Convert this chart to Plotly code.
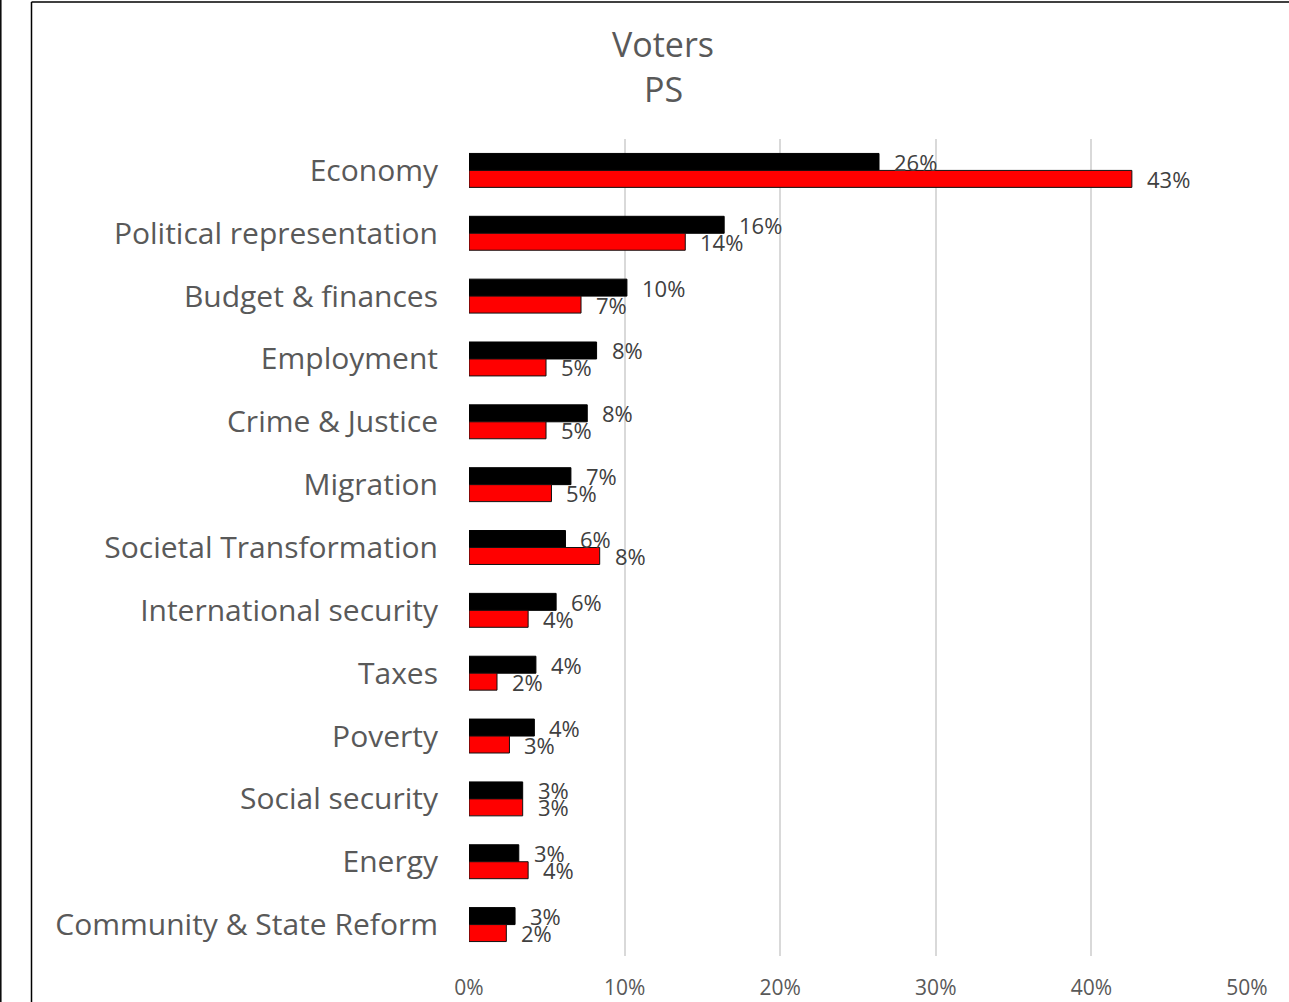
import plotly.graph_objects as go

categories = [
    "Economy", "Political representation", "Budget & finances", "Employment",
    "Crime & Justice", "Migration", "Societal Transformation", "International security",
    "Taxes", "Poverty", "Social security", "Energy", "Community & State Reform",
]
black_values = [26.35, 16.4, 10.15, 8.2, 7.6, 6.55, 6.2, 5.6, 4.3, 4.2, 3.45, 3.2, 2.96]
red_values = [42.6, 13.9, 7.2, 4.95, 4.95, 5.3, 8.4, 3.8, 1.8, 2.6, 3.45, 3.8, 2.4]
tick_vals = [0, 10, 20, 30, 40, 50]
tick_text = ["0%", "10%", "20%", "30%", "40%", "50%"]
title_lines = ["Voters", "PS"]

FONT = "Open Sans"
GRAY = "#595959"
LABEL = "#404040"

fig = go.Figure()
fig.add_trace(go.Bar(
    y=categories, x=black_values, orientation="h", name="black",
    marker=dict(color="#000000", line=dict(color="#000000", width=1)),
))
fig.add_trace(go.Bar(
    y=categories, x=red_values, orientation="h", name="red",
    marker=dict(color="#ff0000", line=dict(color="#111111", width=1)),
))

annotations = []
for cat, bv, rv in zip(categories, black_values, red_values):
    for v, shift in ((bv, 8.5), (rv, -8.5)):
        annotations.append(dict(
            x=v, y=cat, xref="x", yref="y", text=f"{round(v):.0f}%",
            showarrow=False, xanchor="left", yanchor="middle",
            xshift=13, yshift=shift,
            font=dict(family=FONT, size=22, color=LABEL),
        ))

W, H = 1289, 1002
L, R, T, B = 469, 42, 139, 46
pw = W - L - R
ph = H - T - B

def px(x):
    return (x - L) / pw

def py(y):
    return (H - B - y) / ph

annotations.append(dict(
    x=px(663), y=py(44), xref="paper", yref="paper", text=title_lines[0],
    showarrow=False, xanchor="center", yanchor="middle",
    font=dict(family=FONT, size=34, color=GRAY),
))
annotations.append(dict(
    x=px(663), y=py(89), xref="paper", yref="paper", text=title_lines[1],
    showarrow=False, xanchor="center", yanchor="middle",
    font=dict(family=FONT, size=34, color=GRAY),
))

shapes = [
    dict(type="line", xref="paper", yref="paper", x0=px(31.5), x1=px(31.5), y0=py(2), y1=py(1010),
         line=dict(color="#000000", width=1.5)),
    dict(type="line", xref="paper", yref="paper", x0=px(31.5), x1=px(1300), y0=py(2), y1=py(2),
         line=dict(color="#000000", width=1.5)),
    dict(type="line", xref="paper", yref="paper", x0=px(0.8), x1=px(0.8), y0=py(0), y1=py(1010),
         line=dict(color="#000000", width=1.5)),
]

fig.update_layout(
    width=W, height=H,
    margin=dict(l=L, r=R, t=T, b=B, pad=0, autoexpand=False),
    paper_bgcolor="white", plot_bgcolor="white",
    barmode="group", bargap=0.46, bargroupgap=0,
    showlegend=False,
    annotations=annotations, shapes=shapes,
    font=dict(family=FONT, color=GRAY),
    xaxis=dict(
        range=[0, 50], tickvals=tick_vals, ticktext=tick_text,
        showgrid=True, gridcolor="#d9d9d9", gridwidth=1.5,
        zeroline=False, showline=False, automargin=False,
        tickfont=dict(family=FONT, size=21, color=GRAY),
        ticks="", ticklabelstandoff=17,
    ),
    yaxis=dict(
        categoryorder="array", categoryarray=categories, autorange="reversed",
        showgrid=False, zeroline=False, showline=False, automargin=False,
        tickfont=dict(family=FONT, size=30, color=GRAY),
        ticks="", ticklabelstandoff=30,
    ),
)

fig.write_html(
    "out.html",
    config={"displayModeBar": False},
    post_script="document.body.style.margin='0px';document.body.style.overflow='hidden';",
)
